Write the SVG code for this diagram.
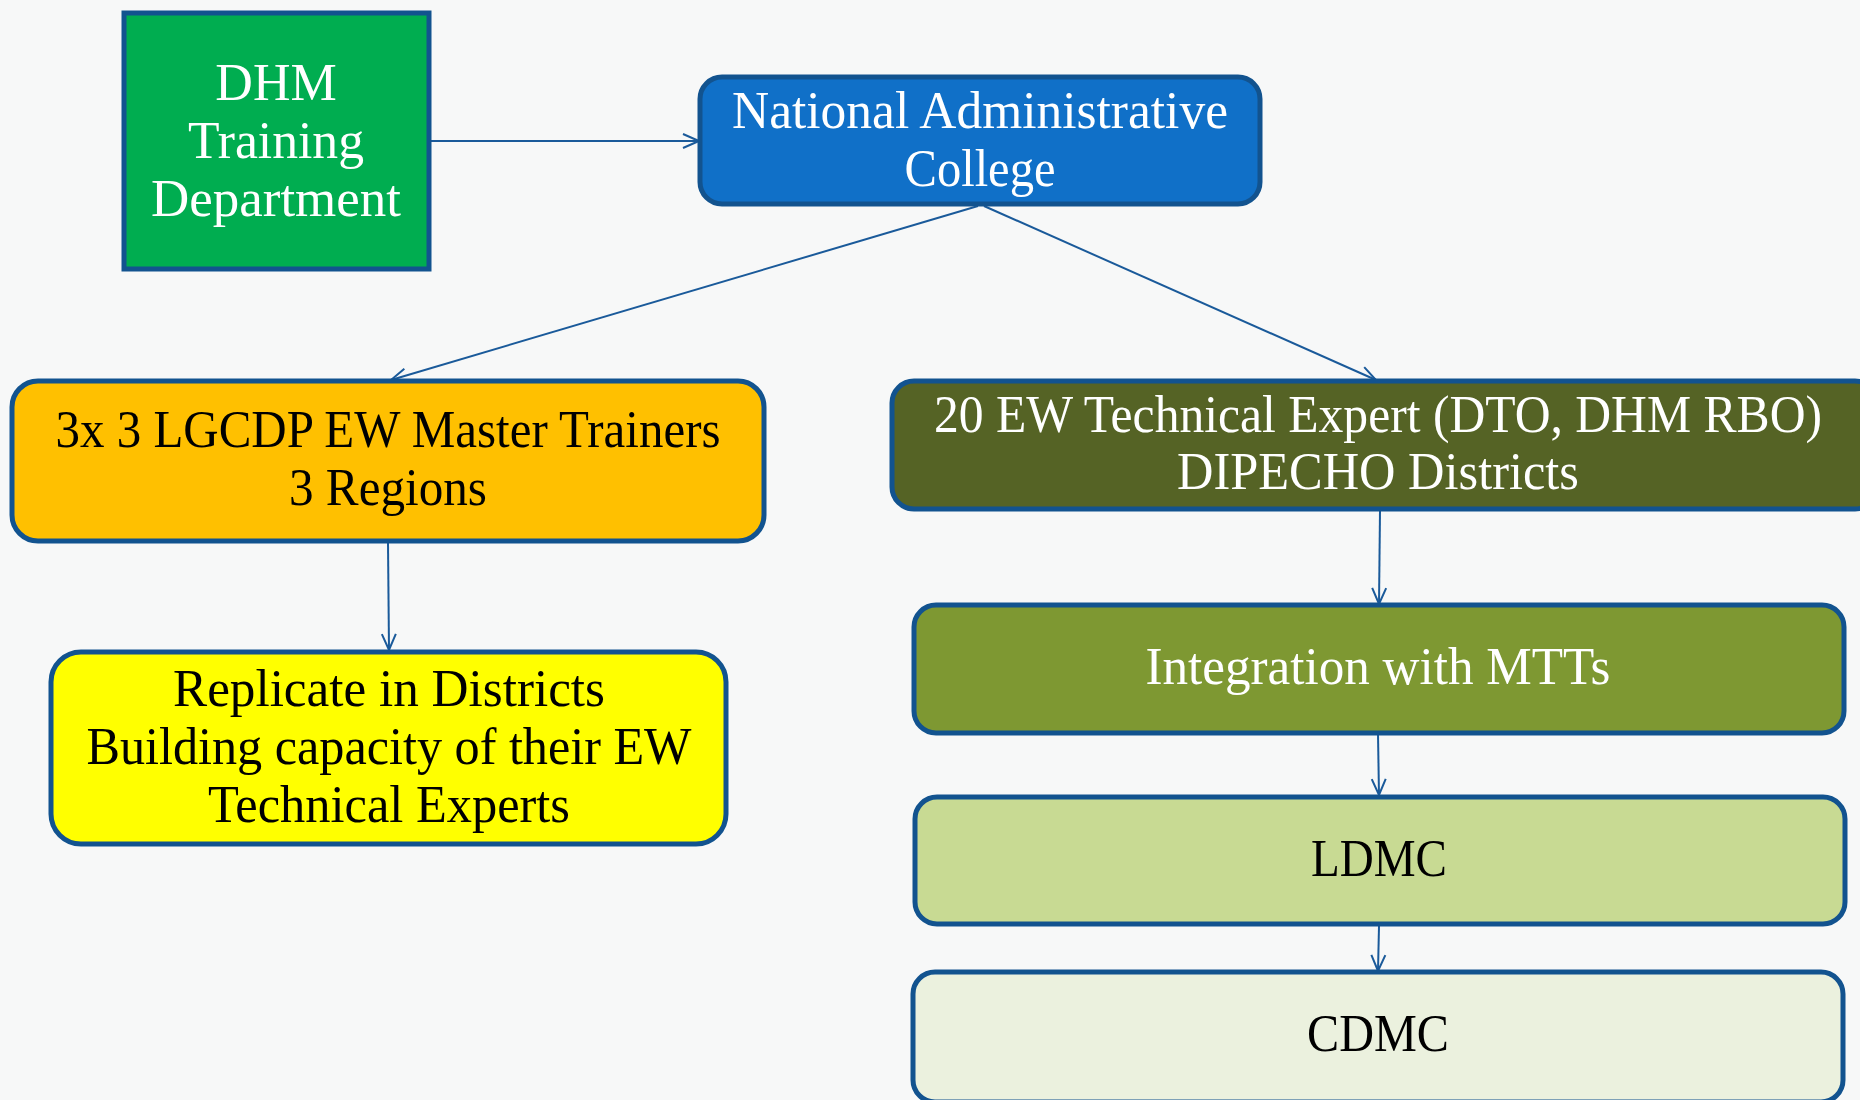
<svg xmlns="http://www.w3.org/2000/svg" width="1860" height="1100" viewBox="0 0 1860 1100">
<defs>
<marker id="arr" viewBox="0 0 20 20" refX="18" refY="10" markerWidth="20" markerHeight="20" markerUnits="userSpaceOnUse" orient="auto">
<path d="M2,3 L18,10 L2,17" fill="none" stroke="#1A5A9A" stroke-width="2"/>
</marker>
<style>
.box{stroke:#12538F;stroke-width:5}
.t{font-family:"Liberation Serif","DejaVu Serif",serif;font-size:52px;text-anchor:middle}
.w{fill:#ffffff}
.k{fill:#000000}
.c{fill:none;stroke:#1A5A9A;stroke-width:2;marker-end:url(#arr)}
</style>
</defs>
<rect x="0" y="0" width="1860" height="1100" fill="#F7F8F8"/>
<g id="connectors">
<line class="c" x1="431" y1="141" x2="699" y2="141"/>
<line class="c" x1="978" y1="206" x2="391" y2="380"/>
<line class="c" x1="984" y1="206" x2="1376" y2="380"/>
<line class="c" x1="388" y1="543" x2="389" y2="650"/>
<line class="c" x1="1380" y1="511" x2="1379" y2="604"/>
<line class="c" x1="1378" y1="734" x2="1379" y2="795"/>
<line class="c" x1="1379" y1="926" x2="1378" y2="971"/>
</g>
<g id="dhm">
<rect class="box" x="124" y="13" width="305" height="256" fill="#00AD50"/>
<text class="t w" x="276" y="100">DHM</text>
<text class="t w" x="276" y="158" textLength="176" lengthAdjust="spacingAndGlyphs">Training</text>
<text class="t w" x="276" y="216" textLength="250" lengthAdjust="spacingAndGlyphs">Department</text>
</g>
<g id="nac">
<rect class="box" x="700" y="77" width="560" height="127" rx="22" fill="#1070C8"/>
<text class="t w" x="980" y="128" textLength="496" lengthAdjust="spacingAndGlyphs">National Administrative</text>
<text class="t w" x="980" y="186" textLength="151" lengthAdjust="spacingAndGlyphs">College</text>
</g>
<g id="lgcdp">
<rect class="box" x="12" y="381" width="752" height="160" rx="26" fill="#FFC000"/>
<text class="t k" x="388" y="447" textLength="665" lengthAdjust="spacingAndGlyphs">3x 3 LGCDP EW Master Trainers</text>
<text class="t k" x="388" y="505" textLength="198" lengthAdjust="spacingAndGlyphs">3 Regions</text>
</g>
<g id="replicate">
<rect class="box" x="51" y="652" width="675" height="192" rx="30" fill="#FFFF00"/>
<text class="t k" x="389" y="706" textLength="432" lengthAdjust="spacingAndGlyphs">Replicate in Districts</text>
<text class="t k" x="389" y="764" textLength="605" lengthAdjust="spacingAndGlyphs">Building capacity of their EW</text>
<text class="t k" x="389" y="822" textLength="362" lengthAdjust="spacingAndGlyphs">Technical Experts</text>
</g>
<g id="expert">
<rect class="box" x="892" y="381" width="985" height="128" rx="22" fill="#556325"/>
<text class="t w" x="1378" y="432" textLength="888" lengthAdjust="spacingAndGlyphs">20 EW Technical Expert (DTO, DHM RBO)</text>
<text class="t w" x="1378" y="489" textLength="402" lengthAdjust="spacingAndGlyphs">DIPECHO Districts</text>
</g>
<g id="mtt">
<rect class="box" x="914" y="605" width="930" height="128" rx="22" fill="#7E9832"/>
<text class="t w" x="1378" y="684" textLength="465" lengthAdjust="spacingAndGlyphs">Integration with MTTs</text>
</g>
<g id="ldmc">
<rect class="box" x="915" y="797" width="930" height="127" rx="22" fill="#C8DA93"/>
<text class="t k" x="1379" y="876" textLength="136" lengthAdjust="spacingAndGlyphs">LDMC</text>
</g>
<g id="cdmc">
<rect class="box" x="913" y="972" width="930" height="130" rx="22" fill="#EBF1DE"/>
<text class="t k" x="1378" y="1051" textLength="142" lengthAdjust="spacingAndGlyphs">CDMC</text>
</g>
</svg>
